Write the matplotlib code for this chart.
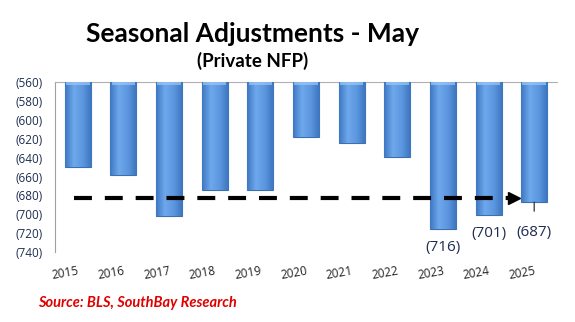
import numpy as np
import matplotlib.pyplot as plt
from matplotlib.colors import LinearSegmentedColormap

years = ['2015', '2016', '2017', '2018', '2019', '2020', '2021', '2022', '2023', '2024', '2025']
adjust = [-650, -658, -702, -674, -674, -618, -624, -639, -716, -701, -687]
labelled = ['2023', '2024', '2025']
avg_level = -683
base = -560

fig = plt.figure(figsize=(5.75, 3.22), dpi=100)
ax = fig.add_axes([0.0957, 0.217, 0.873, 0.528])

x = np.arange(len(years))
bars = ax.bar(x, np.array(adjust) - base, bottom=base, width=0.57,
              color='#5b96dc', edgecolor='#3d6fae', linewidth=0.8, zorder=2)

# glossy look: horizontal gradient clipped to each bar
cmap = LinearSegmentedColormap.from_list('gloss', ['#3f78c2', '#6ea8ec', '#5b97df', '#3c74bd'])
grad = np.linspace(0, 1, 64).reshape(1, -1)
for b in bars:
    x0, w = b.get_x(), b.get_width()
    y0, h = b.get_y(), b.get_height()
    im = ax.imshow(grad, cmap=cmap, aspect='auto', extent=[x0, x0 + w, y0 + h, y0], zorder=3)
    im.set_clip_path(b)
    # light cap at the top
    ax.fill_between([x0 + w * 0.05, x0 + w * 0.95], y0, y0 - 3, color='#9cc8f4', alpha=0.7, zorder=4, lw=0)

ax.set_xlim(-0.5, 10.5)
ax.set_ylim(-740, -560)
ax.set_yticks(np.arange(-740, -559, 20))
ax.set_yticklabels([f'({-v})' for v in np.arange(-740, -559, 20)])
ax.set_xticks(x)
ax.set_xticklabels(years, rotation=10, ha='right', rotation_mode='anchor')

for s in ['right', 'bottom']:
    ax.spines[s].set_visible(False)
ax.spines['left'].set_color('#a0a0a0')
ax.spines['top'].set_color('#b0b0b0')
ax.tick_params(axis='y', length=0, pad=9, labelsize=8.5, labelcolor='#1f2d50')
ax.tick_params(axis='x', length=0, pad=9, labelsize=8.5, labelcolor='#222222')
for t in ax.get_xticklabels() + ax.get_yticklabels():
    t.set_family('Open Sans')
for t in ax.get_xticklabels():
    t.set_x(t.get_position()[0] + 0.2)

# dashed average arrow
x_end = bars[-1].get_x() - 0.02
ax.plot([-0.09, x_end - 0.2], [avg_level, avg_level], color='black', lw=3,
        dashes=(4.3, 3.1), zorder=5, solid_capstyle='butt', dash_capstyle='butt')
ax.plot(x_end - 0.14, avg_level, marker='>', ms=9, color='black', zorder=5)

# data labels
for yr in labelled:
    i = years.index(yr)
    v = adjust[i]
    off = 22 if yr == '2025' else 13
    ax.annotate(f'({-v})', xy=(x[i], v), xytext=(0, -off), textcoords='offset points',
                ha='center', va='center', fontsize=11, color='#1f2d50', family='Open Sans',
                arrowprops=dict(arrowstyle='-', color='#333333', lw=0.9, shrinkA=8, shrinkB=0) if yr == '2025' else None,
                zorder=6)

fig.text(0.44, 0.893, 'Seasonal Adjustments - May', ha='center', va='center',
         fontsize=19, fontweight='bold', family='Lato', color='black')
fig.text(0.44, 0.81, '(Private NFP)', ha='center', va='center',
         fontsize=13.5, fontweight='bold', family='Lato', color='black')
fig.text(0.066, 0.058, 'Source: BLS, SouthBay Research', ha='left', va='center',
         fontsize=10.5, fontweight='bold', style='italic', family='Lato', color='#e00000')

fig.savefig('out.png', dpi=100)
